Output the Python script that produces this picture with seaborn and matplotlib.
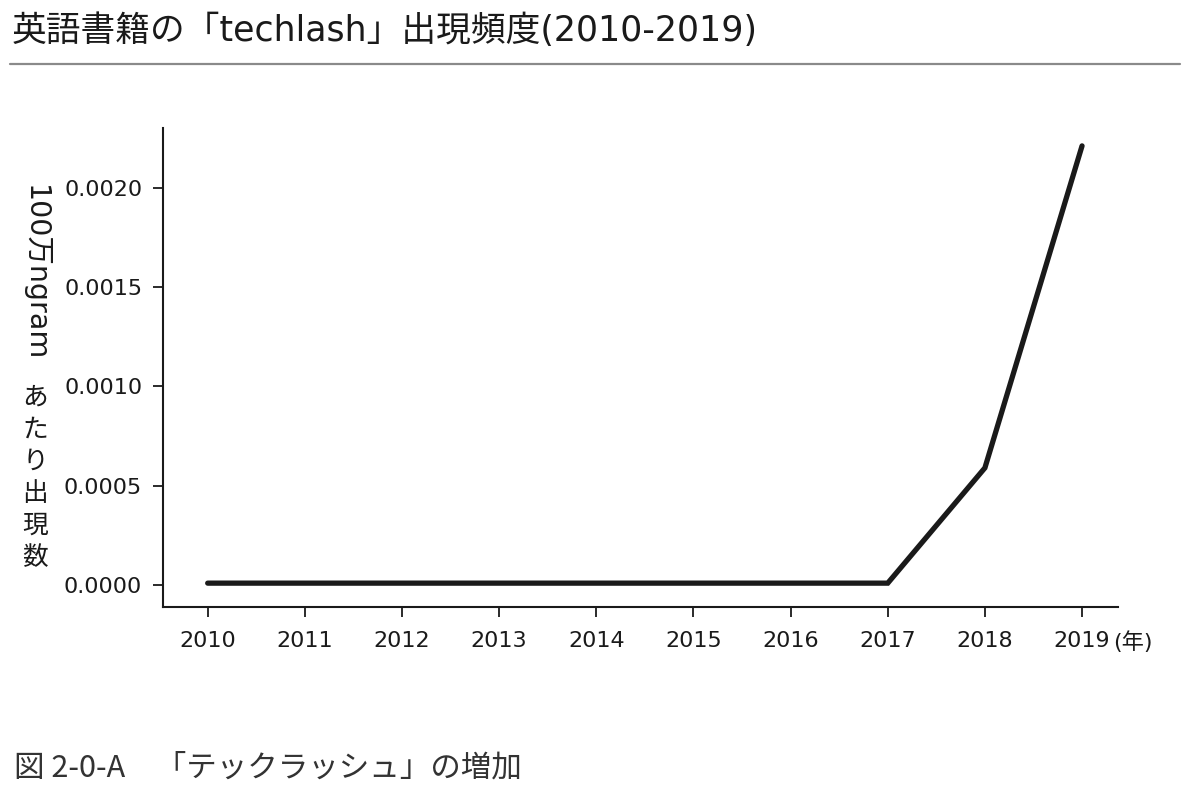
import matplotlib.pyplot as plt
import pandas as pd
import seaborn as sns

# Frequency of "techlash" per million ngrams.
years = [2010, 2011, 2012, 2013, 2014, 2015, 2016, 2017, 2018, 2019]
freq = [0.00001, 0.00001, 0.00001, 0.00001, 0.00001,
        0.00001, 0.00001, 0.00001, 0.00059, 0.00221]
y_ticks = [0.0000, 0.0005, 0.0010, 0.0015, 0.0020]

title = "英語書籍の「techlash」出現頻度(2010-2019)"
caption = "図 2-0-A　「テックラッシュ」の増加"

sns.set_theme(style="ticks")
# wide latin glyphs from DejaVu, Japanese glyphs from Noto CJK
plt.rcParams['font.family'] = ['DejaVu Sans', 'Noto Sans CJK JP']
ink = "#1a1a1a"

df = pd.DataFrame({"year": years, "freq": freq})

fig = plt.figure(figsize=(12, 7.96), dpi=100)
ax = fig.add_axes([163 / 1200, 1 - 607 / 796, (1118 - 163) / 1200, (607 - 128) / 796])

sns.lineplot(data=df, x="year", y="freq", ax=ax, color=ink,
             linewidth=3.8, solid_joinstyle="miter")

ax.set_xlim(2009.54, 2019.37)
ax.set_ylim(-0.00011, 0.0023)
ax.set_xticks(years)
ax.set_xticklabels([str(y) for y in years])
ax.set_yticks(y_ticks)
ax.set_yticklabels([f"{v:.4f}" for v in y_ticks])
ax.tick_params(axis="both", labelsize=16, length=7, width=1.3, color=ink,
               labelcolor=ink)
ax.tick_params(axis="x", pad=10)
ax.tick_params(axis="y", pad=8)
ax.set_xlabel("")
ax.set_ylabel("")
sns.despine(ax=ax)
for side in ["left", "bottom"]:
    ax.spines[side].set_linewidth(1.5)
    ax.spines[side].set_color(ink)

# unit for x axis next to last tick
fig.text(1113 / 1200, 1 - 642 / 796, "(年)", fontsize=16, color=ink,
         va="center", ha="left")

# vertical y label: latin part rotated, kana/kanji stacked upright
fig.text(35 / 1200, 1 - 273 / 796, "100万ngram", fontsize=20.5, color=ink,
         rotation=-90, ha="center", va="center")
fig.text(35 / 1200, 1 - 478 / 796, "\n".join("あたり出現数"), fontsize=18.5,
         color=ink, ha="center", va="center", linespacing=1.3)

# title, rule and caption
fig.text(12 / 1200, 1 - 31 / 796, title, fontsize=25, color=ink,
         ha="left", va="center")
fig.add_artist(plt.Line2D([10 / 1200, 1180 / 1200], [1 - 64 / 796, 1 - 64 / 796],
                          color="#8a8a8a", linewidth=1.6))
fig.text(14 / 1200, 1 - 768 / 796, caption, fontsize=22, color="#333333",
         ha="left", va="center", family=['Noto Sans CJK JP', 'DejaVu Sans'])

fig.savefig("out.png", dpi=100)
